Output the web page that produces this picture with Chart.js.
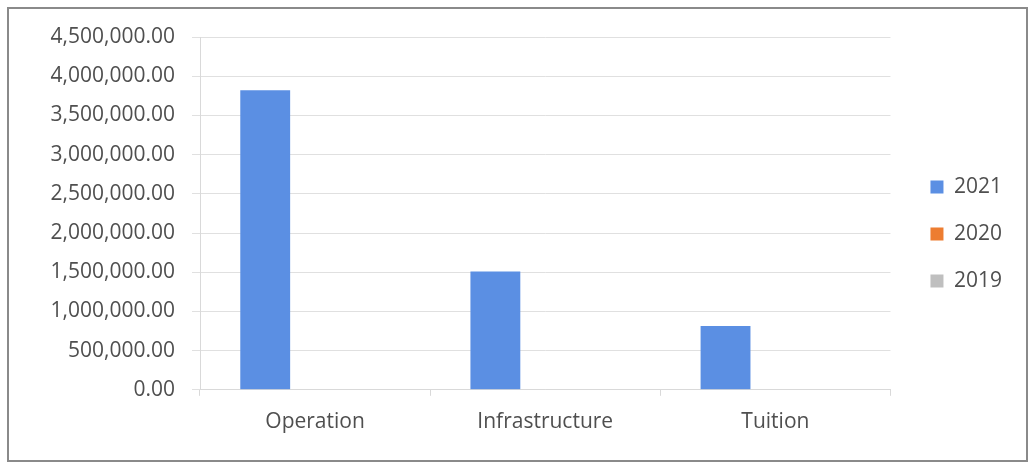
<!DOCTYPE html>
<html>
<head>
<meta charset="utf-8">
<script src="https://cdn.jsdelivr.net/npm/chart.js@4.4.1/dist/chart.umd.min.js"></script>
<style>
  body { margin: 0; background: #fff; }
  #frame { position: absolute; left: 7px; top: 7px; width: 1017px; height: 451px; border: 2px solid #8a8a8a; }
  #chart { position: absolute; left: 0; top: 0; }
</style>
</head>
<body>
<div id="frame"></div>
<canvas id="chart" width="1032" height="469"></canvas>
<script>
// categories and series
var categories = ['Operation', 'Infrastructure', 'Tuition'];
var values2021 = [3820000, 1510000, 815000];
var values2020 = [0, 0, 0];
var values2019 = [0, 0, 0];
var yTicksMax = 4500000;
var yTicksStep = 500000;

// nudge the legend up a bit so it sits where Excel puts it
var legendNudge = {
    id: 'legendNudge',
    afterLayout: function(chart) {
        if (chart.legend) {
            chart.legend.top -= 9;
            chart.legend.bottom -= 9;
        }
    }
};

document.addEventListener('DOMContentLoaded', function() {
    var ctx = document.getElementById('chart').getContext('2d');
    Chart.defaults.font.family = "'Open Sans', sans-serif";
    Chart.defaults.font.size = 21;
    Chart.defaults.color = '#4f4f4f';

    var chart = new Chart(ctx, {
        type: 'bar',
        data: {
            labels: categories,
            datasets: [{
                label: '2021',
                data: values2021,
                backgroundColor: '#5b8fe3'
            }, {
                label: '2020',
                data: values2020,
                backgroundColor: '#ed7d31'
            }, {
                label: '2019',
                data: values2019,
                backgroundColor: '#bfbfbf'
            }]
        },
        plugins: [legendNudge],
        options: {
            responsive: false,
            animation: false,
            layout: {
                padding: { left: 0, top: 37, right: 20, bottom: 20 }
            },
            datasets: {
                bar: {
                    categoryPercentage: 0.65,
                    barPercentage: 1.0
                }
            },
            plugins: {
                legend: {
                    position: 'right',
                    labels: {
                        boxWidth: 13,
                        boxHeight: 13,
                        padding: 26,
                        color: '#4f4f4f'
                    }
                },
                tooltip: { enabled: false }
            },
            scales: {
                x: {
                    grid: {
                        display: true,
                        drawOnChartArea: false,
                        tickLength: 6,
                        color: '#d9d9d9'
                    },
                    border: { color: '#d9d9d9' },
                    ticks: { padding: 14, maxRotation: 0 }
                },
                y: {
                    min: 0,
                    max: yTicksMax,
                    grid: {
                        color: '#e0e0e0',
                        tickLength: 8
                    },
                    border: { color: '#d9d9d9' },
                    ticks: {
                        stepSize: yTicksStep,
                        padding: 17,
                        callback: function(v) {
                            return v.toLocaleString('en-US', { minimumFractionDigits: 2, maximumFractionDigits: 2 });
                        }
                    },
                    afterFit: function(scale) { scale.width = 200; }
                },
                // spacer between the plot and the legend
                gap: {
                    type: 'linear',
                    position: 'right',
                    grid: { display: false },
                    border: { display: false },
                    ticks: { display: false },
                    afterFit: function(scale) { scale.width = 14; }
                }
            }
        }
    });
});
</script>
</body>
</html>
